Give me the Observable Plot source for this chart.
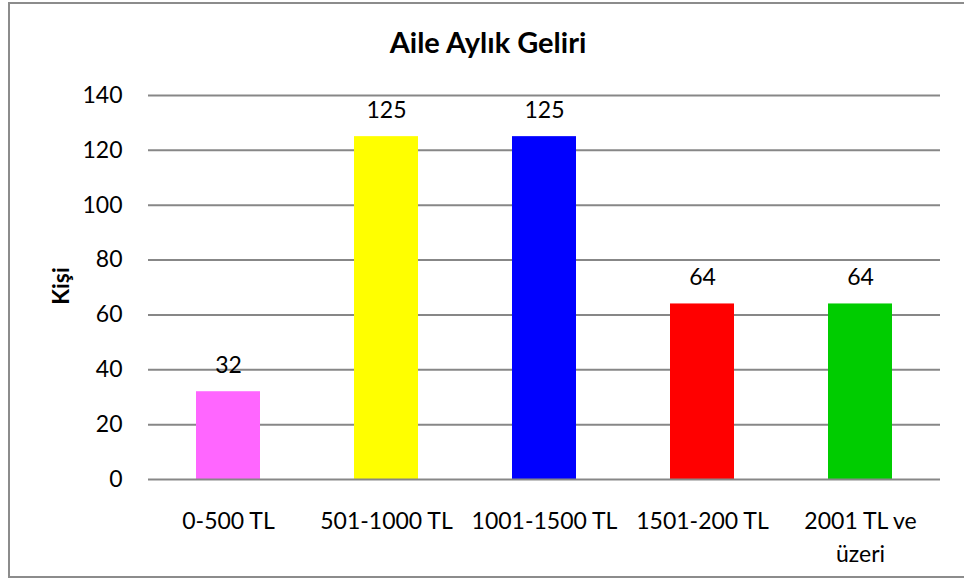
<!DOCTYPE html>
<html>
<head>
<meta charset="utf-8">
<script src="https://cdn.jsdelivr.net/npm/d3@7"></script>
<script src="https://cdn.jsdelivr.net/npm/@observablehq/plot@0.6"></script>
<style>
  html, body { margin: 0; padding: 0; background: #fff; }
  #wrap { position: relative; width: 964px; height: 580px; overflow: hidden; font-family: Lato, "Liberation Sans", sans-serif; }
  #border { position: absolute; left: 8px; top: 2px; width: 970px; height: 576px; border: 2px solid #8c8c8c; box-sizing: border-box; }
  #title { position: absolute; left: 0; width: 976px; top: 27px; text-align: center; font-weight: bold; font-size: 29px; line-height: 29px; color: #000; }
  #ylab { position: absolute; left: 60px; top: 286px; transform: translate(-50%, -50%) rotate(-90deg); font-weight: bold; font-size: 23px; line-height: 23px; white-space: nowrap; }
  #chart { position: absolute; left: 0; top: 0; }
</style>
</head>
<body>
<div id="wrap">
  <div id="border"></div>
  <div id="chart"></div>
  <div id="title">Aile Aylık Geliri</div>
  <div id="ylab">Kişi</div>
</div>
<script>
const categories = ["0-500 TL", "501-1000 TL", "1001-1500 TL", "1501-200 TL", "2001 TL ve\nüzeri"];
const values = [32, 125, 125, 64, 64];
const colors = ["#FF66FF", "#FFFF00", "#0000FF", "#FF0000", "#00CC00"];
const yTicks = [0, 20, 40, 60, 80, 100, 120, 140];

const data = categories.map((c, i) => ({cat: c, value: values[i], color: colors[i]}));

const chart = Plot.plot({
  width: 964,
  height: 580,
  marginLeft: 148,
  marginRight: 24,
  marginTop: 95,
  marginBottom: 101,
  style: {fontFamily: "Lato, 'Liberation Sans', sans-serif", fontSize: "23px", color: "#000", background: "transparent", overflow: "visible"},
  x: {domain: categories, paddingInner: 0.596, paddingOuter: 0.298, label: null},
  y: {domain: [0, 140], label: null},
  marks: [
    Plot.ruleY(yTicks.filter(d => d > 0), {stroke: "#878787", strokeWidth: 2, strokeOpacity: 1}),
    Plot.barY(data, {x: "cat", y: "value", fill: "color"}),
    Plot.text(data, {x: "cat", y: "value", text: d => String(d.value), dy: -26, fontSize: 23, fill: "#000"}),
    Plot.axisY({ticks: yTicks, tickSize: 0, tickPadding: 26, label: null, fontSize: 23}),
    Plot.axisX({tickSize: 0, tickPadding: 26, label: null, fontSize: 23, lineHeight: 1.43}),
    Plot.ruleX([0], {x: () => 0, stroke: "#878787", strokeWidth: 2}),
    Plot.ruleY([0], {stroke: "#878787", strokeWidth: 2})
  ]
});
document.getElementById("chart").appendChild(chart);
</script>
</body>
</html>
